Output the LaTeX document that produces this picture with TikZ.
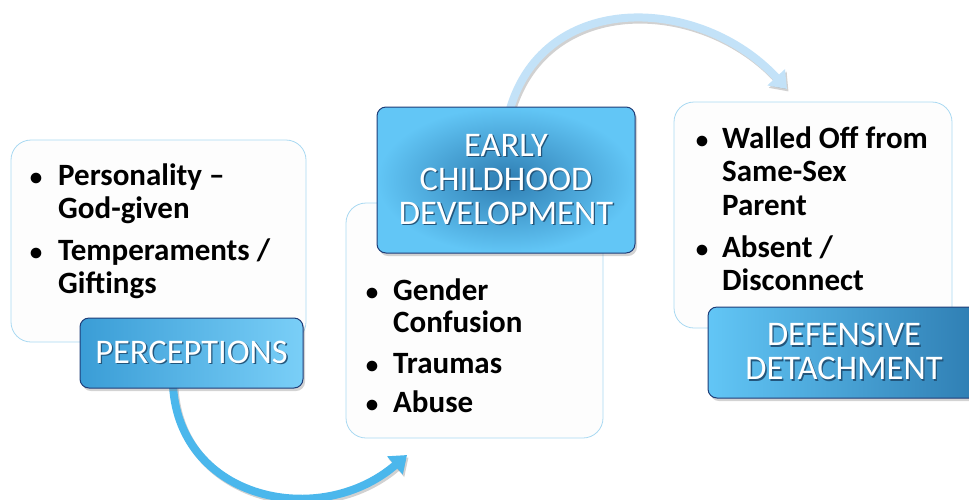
\documentclass[tikz,border=0pt]{standalone}
\usepackage{fontspec}
\setmainfont{Carlito}
\usetikzlibrary{shadows,arrows.meta}
\definecolor{boxfill}{HTML}{FDFDFD}
\definecolor{boxline}{HTML}{A9D9F2}
\definecolor{hdrline}{HTML}{1F3D78}
\definecolor{hdrlight}{HTML}{62C6F6}
\definecolor{hdrdark}{HTML}{3A9DD6}
\definecolor{hdrdeep}{HTML}{2E7DB2}
\definecolor{arrowA}{HTML}{4BB7EC}
\definecolor{arrowB}{HTML}{C3E2F8}
\definecolor{txtshadow}{HTML}{23567C}
\newcommand\shtext[1]{\rlap{\raisebox{-1.8pt}{\hspace{1.4pt}\textcolor{txtshadow}{#1}}}#1}
\begin{document}
\begin{tikzpicture}[x=1pt,y=-1pt,
  whitebox/.style={draw=boxline,fill=boxfill,line width=0.8pt,rounded corners=20pt,inner sep=0pt},
  hdrbox/.style={draw=hdrline,line width=1pt,rounded corners=9pt,inner sep=0pt,
    text=white,align=center,font=\fontsize{34.5}{34}\selectfont,
    drop shadow={shadow xshift=2pt,shadow yshift=-3pt,opacity=0.35}},
  bodytxt/.style={anchor=base west,inner sep=0pt,font=\bfseries\fontsize{31}{33}\selectfont},
  bul/.style={anchor=base,inner sep=0pt,font=\bfseries\fontsize{25}{33}\selectfont},
  arr/.style={line width=8pt,-{Triangle[width=23pt,length=16pt]}},
  arrshadow/.style={line width=8pt,-{Triangle[width=23pt,length=16pt]},draw=black,opacity=0.18}
]
\useasboundingbox (0,0) rectangle (969,499);
\clip (0,0) rectangle (969,499);

% connector coordinates
\coordinate (a1s) at (173,386);
\coordinate (a1e) at (407,455);
\coordinate (a2s) at (510,109);
\coordinate (a2e) at (787,89);

% top arrow (behind boxes)
\draw[arrshadow] ([shift={(1.5,2.5)}]a2s) .. controls (547,-8) and (702,-3) .. ([shift={(1.5,2.5)}]a2e);
\draw[arr,draw=arrowB] (a2s) .. controls (545,-10) and (700,-5) .. (a2e);

% bottom arrow
\draw[arrshadow] ([shift={(1.5,2.5)}]a1s) .. controls (182,502) and (322,532) .. ([shift={(1.5,2.5)}]a1e);
\draw[arr,draw=arrowA] (a1s) .. controls (180,500) and (320,530) .. (a1e);

% white boxes
\node[whitebox,minimum width=295pt,minimum height=202pt] (b1) at (158.5,241) {};
\node[whitebox,minimum width=257pt,minimum height=235pt] (b2) at (474.5,320.5) {};
\node[whitebox,minimum width=278pt,minimum height=226pt] (b3) at (813,215) {};

% header boxes
\node[hdrbox,left color=hdrdark,right color=hdrlight!85!white,minimum width=223pt,minimum height=70pt] (h1) at (191.5,353) {\shtext{PERCEPTIONS}};
\node[hdrbox,inner color=hdrdeep,outer color=hdrlight,minimum width=258pt,minimum height=146pt] (h2) at (506,180) {\shtext{EARLY}\\\shtext{CHILDHOOD}\\\shtext{DEVELOPMENT}};
\node[hdrbox,left color=hdrlight,right color=hdrdeep,minimum width=272pt,minimum height=91pt] (h3) at (844,352.5) {\shtext{DEFENSIVE}\\\shtext{DETACHMENT}};

% box 1 text
\node[bul] (b1u1) at (36,185) {\textbullet};
\node[bodytxt] (b1l1) at (58,185) {Personality –};
\node[bodytxt] (b1l2) at (58,218) {God-given};
\node[bul] (b1u2) at (36,260) {\textbullet};
\node[bodytxt] (b1l3) at (58,260) {Temperaments /};
\node[bodytxt] (b1l4) at (58,293) {Giftings};

% box 2 text
\node[bul] (b2u1) at (372,300) {\textbullet};
\node[bodytxt] (b2l1) at (393,300) {Gender};
\node[bodytxt] (b2l2) at (393,332) {Confusion};
\node[bul] (b2u2) at (372,373) {\textbullet};
\node[bodytxt] (b2l3) at (393,373) {Traumas};
\node[bul] (b2u3) at (372,412) {\textbullet};
\node[bodytxt] (b2l4) at (393,412) {Abuse};

% box 3 text
\node[bul] (b3u1) at (702,148) {\textbullet};
\node[bodytxt] (b3l1) at (722,148) {Walled Off from};
\node[bodytxt] (b3l2) at (722,181) {Same-Sex};
\node[bodytxt] (b3l3) at (722,215) {Parent};
\node[bul] (b3u2) at (702,257) {\textbullet};
\node[bodytxt] (b3l4) at (722,257) {Absent /};
\node[bodytxt] (b3l5) at (722,290) {Disconnect};
\end{tikzpicture}
\end{document}
